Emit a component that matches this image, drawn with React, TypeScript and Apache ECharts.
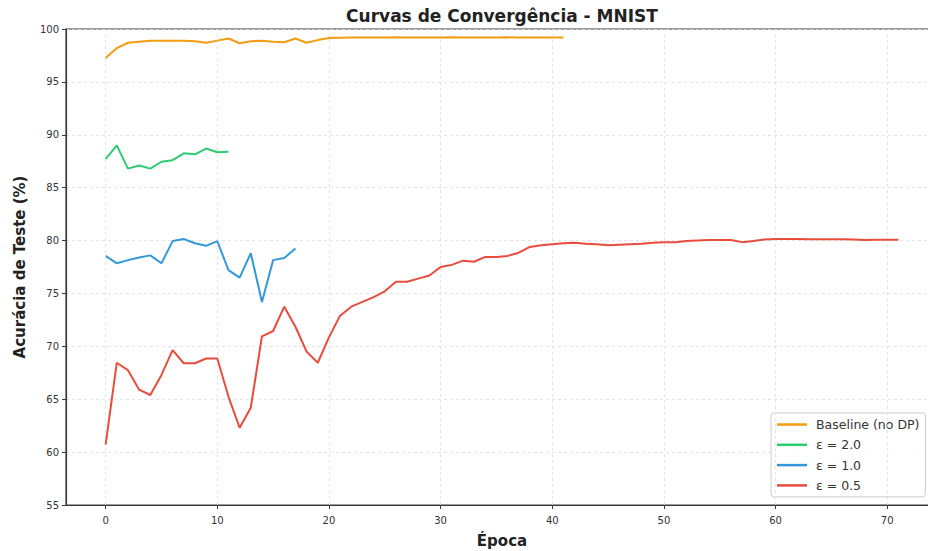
import React, { useEffect, useRef } from "react";
import * as echarts from "echarts";

const seriesNames = ["Baseline (no DP)", "ε = 2.0", "ε = 1.0", "ε = 0.5"];
const seriesColors = ["#f39c12", "#2ecc71", "#3498db", "#e74c3c"];

const baseline = [
  97.25, 98.2, 98.7, 98.8, 98.9, 98.9, 98.9, 98.9, 98.85, 98.7,
  98.9, 99.1, 98.65, 98.85, 98.9, 98.8, 98.75, 99.1, 98.7, 98.95,
  99.15, 99.18, 99.2, 99.2, 99.2, 99.2, 99.21, 99.2, 99.2, 99.2,
  99.2, 99.21, 99.2, 99.2, 99.2, 99.2, 99.21, 99.2, 99.2, 99.2,
  99.2, 99.2,
];
const eps20 = [87.7, 89.0, 86.8, 87.1, 86.8, 87.45, 87.6, 88.25, 88.15, 88.7, 88.35, 88.4];
const eps10 = [
  78.55, 77.85, 78.15, 78.4, 78.6, 77.85, 79.95, 80.15, 79.75, 79.5,
  79.95, 77.2, 76.5, 78.8, 74.2, 78.15, 78.35, 79.25,
];
const eps05 = [
  60.7, 68.45, 67.75, 65.9, 65.4, 67.3, 69.65, 68.4, 68.4, 68.85,
  68.85, 65.25, 62.3, 64.2, 70.95, 71.45, 73.75, 71.85, 69.5, 68.45,
  70.85, 72.9, 73.75, 74.2, 74.65, 75.2, 76.1, 76.1, 76.4, 76.7,
  77.5, 77.7, 78.1, 78.0, 78.45, 78.45, 78.55, 78.85, 79.4, 79.55,
  79.65, 79.75, 79.8, 79.7, 79.65, 79.55, 79.6, 79.65, 79.7, 79.8,
  79.85, 79.85, 79.95, 80.0, 80.05, 80.05, 80.05, 79.85, 79.95, 80.1,
  80.15, 80.15, 80.15, 80.12, 80.12, 80.12, 80.12, 80.1, 80.05, 80.08,
  80.08, 80.08,
];
const allSeries = [baseline, eps20, eps10, eps05];

const xTicks = [0, 10, 20, 30, 40, 50, 60, 70];
const xMin = -3.55;
const xMax = 74.55;
const yMin = 55;
const yMax = 100;
const yStep = 5;

const titleText = "Curvas de Convergência - MNIST";
const xLabel = "Época";
const yLabel = "Acurácia de Teste (%)";

const FONT = "DejaVu Sans";
const GRID_COLOR = "#dcdcdc";

export default function App() {
  const ref = useRef<HTMLDivElement>(null);
  useEffect(() => {
    if (!ref.current) return;
    const chart = echarts.init(ref.current, null, { renderer: "svg" });
    chart.setOption({
      animation: false,
      backgroundColor: "#ffffff",
      grid: {
        left: 66,
        top: 29,
        right: 2,
        bottom: 46,
        show: true,
        borderColor: "#3a3a3a",
        borderWidth: 1.2,
        backgroundColor: "transparent",
      },
      xAxis: {
        type: "value",
        min: xMin,
        max: xMax,
        axisLine: { show: true, onZero: false, lineStyle: { color: "#3a3a3a", width: 1.2 } },
        axisTick: { show: true, length: 4, customValues: xTicks, lineStyle: { color: "#3a3a3a" } },
        axisLabel: {
          show: true,
          customValues: xTicks,
          fontSize: 10,
          color: "#333",
          fontFamily: FONT,
          margin: 10,
        },
        splitLine: { show: false },
      },
      yAxis: {
        type: "value",
        min: yMin,
        max: yMax,
        interval: yStep,
        axisLine: { show: true, onZero: false, lineStyle: { color: "#3a3a3a", width: 1.2 } },
        axisTick: { show: true, length: 4, lineStyle: { color: "#3a3a3a" } },
        axisLabel: { fontSize: 10, color: "#333", fontFamily: FONT, margin: 7 },
        splitLine: { show: true, lineStyle: { color: GRID_COLOR, width: 0.8, type: [3, 3] } },
      },
      legend: {
        orient: "vertical",
        left: 771,
        top: 413,
        padding: [4, 6, 4, 6],
        itemGap: 5.3,
        itemWidth: 30,
        itemHeight: 2.5,
        icon: "rect",
        backgroundColor: "rgba(255,255,255,0.85)",
        borderColor: "#cccccc",
        borderWidth: 1,
        borderRadius: 3,
        textStyle: { fontSize: 12.5, lineHeight: 15, color: "#333", fontFamily: FONT, padding: [0, 0, 0, 4] },
        data: seriesNames,
      },
      series: [
        {
          name: "__grid",
          type: "line",
          data: [],
          silent: true,
          z: 1,
          markLine: {
            silent: true,
            symbol: "none",
            label: { show: false },
            lineStyle: { color: GRID_COLOR, width: 0.8, type: [3, 3] },
            emphasis: { disabled: true },
            data: xTicks.map((v) => ({ xAxis: v })),
          },
        },
        ...allSeries.map((vals, i) => ({
          name: seriesNames[i],
          type: "line",
          data: vals.map((v, e) => [e, v]),
          showSymbol: false,
          symbol: "none",
          color: seriesColors[i],
          lineStyle: { color: seriesColors[i], width: 2 },
          z: 2 + i,
        })),
      ],
      graphic: [
        {
          type: "text",
          x: 502,
          y: 16,
          style: {
            text: titleText,
            fontFamily: FONT,
            fontWeight: "bold",
            fontSize: 17,
            fill: "#222",
            textAlign: "center",
            textVerticalAlign: "middle",
          },
        },
        {
          type: "text",
          x: 502,
          y: 541,
          style: {
            text: xLabel,
            fontFamily: FONT,
            fontWeight: "bold",
            fontSize: 15,
            fill: "#222",
            textAlign: "center",
            textVerticalAlign: "middle",
          },
        },
        {
          type: "text",
          x: 20,
          y: 267,
          rotation: Math.PI / 2,
          style: {
            text: yLabel,
            fontFamily: FONT,
            fontWeight: "bold",
            fontSize: 15,
            fill: "#222",
            textAlign: "center",
            textVerticalAlign: "middle",
          },
        },
      ],
    });
    return () => chart.dispose();
  }, []);
  return (
    <div
      style={{
        position: "fixed",
        left: 0,
        top: 0,
        width: 928,
        height: 551,
        overflow: "hidden",
        background: "#fff",
      }}
    >
      <div ref={ref} style={{ width: 940, height: 551 }} />
    </div>
  );
}
